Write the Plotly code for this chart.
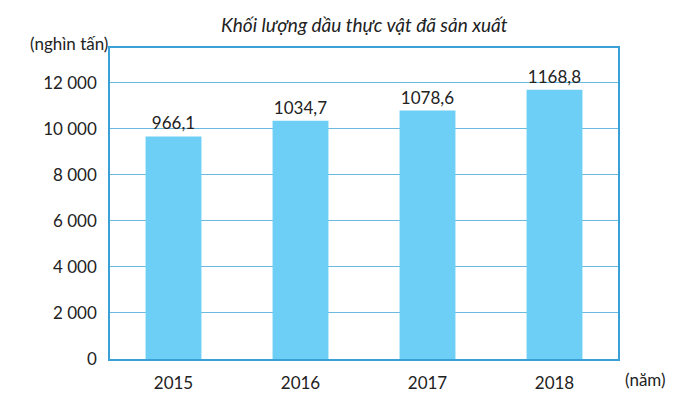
import plotly.graph_objects as go

years = ["2015", "2016", "2017", "2018"]
values = [966.1, 1034.7, 1078.6, 1168.8]
labels = ["966,1", "1034,7", "1078,6", "1168,8"]
tick_vals = [0, 2000, 4000, 6000, 8000, 10000, 12000]
tick_text = ["0", "2 000", "4 000", "6 000", "8 000", "10 000", "12 000"]

fig = go.Figure(go.Bar(
    x=years, y=[v * 10 for v in values], width=0.44,
    marker=dict(color="#6dcff6", line=dict(width=0)),
    text=labels, textposition="outside", cliponaxis=False,
    textfont=dict(size=17, color="#222", family="Lato"),
))
fig.update_layout(
    width=680, height=405, margin=dict(l=102, r=70, t=40, b=54),
    paper_bgcolor="white", plot_bgcolor="white", showlegend=False,
    font=dict(family="Lato", size=17, color="#222"),
    annotations=[
        dict(text="<i>Khối lượng dầu thực vật đã sản xuất</i>", x=0.5, y=1, xref="paper", yref="paper",
             xanchor="center", yanchor="bottom", yshift=10, showarrow=False, font=dict(size=19)),
        dict(text="(nghìn tấn)", x=0, y=1, xref="paper", yref="paper", xanchor="right", yanchor="bottom",
             xshift=0, yshift=-8, showarrow=False, font=dict(size=17)),
        dict(text="(năm)", x=1, y=0, xref="paper", yref="paper", xanchor="left", yanchor="top",
             xshift=5, yshift=-8, showarrow=False, font=dict(size=17)),
    ],
)
fig.update_yaxes(range=[0, 13500], tickvals=tick_vals, ticktext=tick_text,
                 showgrid=True, gridcolor="#6bb8e0", gridwidth=1,
                 showline=True, linecolor="#3aa0d8", mirror=True, linewidth=1.5,
                 zeroline=False, ticks="", ticklabelstandoff=8)
fig.update_xaxes(showline=True, linecolor="#3aa0d8", mirror=True, linewidth=1.5,
                 ticks="", ticklabelstandoff=8)
fig.write_html("out.html")
